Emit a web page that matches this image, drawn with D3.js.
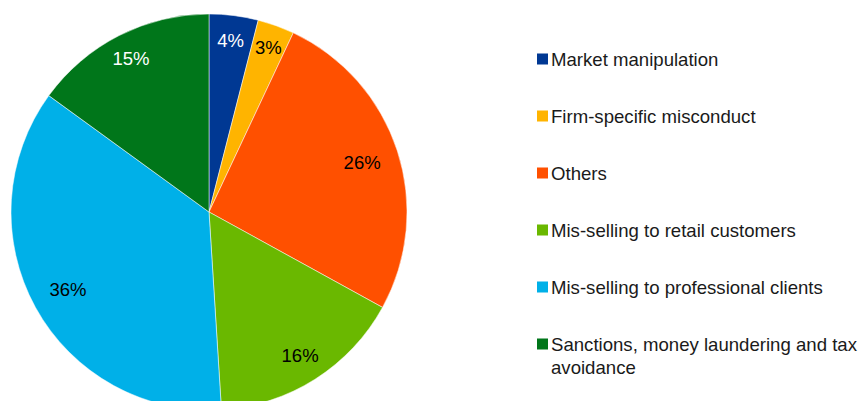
<!DOCTYPE html>
<html>
<head>
<meta charset="utf-8">
<script src="https://cdn.jsdelivr.net/npm/d3@7"></script>
<style>
  body { margin: 0; background: #fff; }
  text { font-family: "Liberation Sans", Arial, sans-serif; }
</style>
</head>
<body>
<div id="container"></div>
<script>
const WIDTH = 860, HEIGHT = 401;

const categories = [
    "Market manipulation",
    "Firm-specific misconduct",
    "Others",
    "Mis-selling to retail customers",
    "Mis-selling to professional clients",
    "Sanctions, money laundering and tax avoidance"
];
const values = [4, 3, 26, 16, 36, 15];
const colors = ["#003893", "#FFB400", "#FF5000", "#6AB800", "#00B0E8", "#00761A"];
const labelColors = ["#fff", "#000", "#000", "#000", "#000", "#fff"];

const cx = 209, cy = 212, radius = 198;
// label distance from centre for each slice (best-fit placement)
const labelRadii = [173, 175, 161, 170, 161, 172];

const svg = d3.select("#container").append("svg")
    .attr("width", WIDTH).attr("height", HEIGHT);

const data = categories.map((c, i) => ({ name: c, value: values[i], i: i }));

const pie = d3.pie().value(d => d.value).sort(null);
const arc = d3.arc().innerRadius(0).outerRadius(radius);

const g = svg.append("g").attr("transform", `translate(${cx}, ${cy})`);

const arcs = pie(data);

g.selectAll("path")
    .data(arcs)
    .join("path")
    .attr("d", arc)
    .attr("fill", d => colors[d.data.i])
    .attr("stroke", "#fff")
    .attr("stroke-width", 0.5);

g.selectAll("text")
    .data(arcs)
    .join("text")
    .attr("transform", d => {
        const r = labelRadii[d.data.i];
        return `translate(${d3.arc().innerRadius(r).outerRadius(r).centroid(d)})`;
    })
    .attr("text-anchor", "middle")
    .attr("dy", "0.35em")
    .attr("font-size", 18.5)
    .attr("fill", d => labelColors[d.data.i])
    .text(d => d.data.value + "%");

// legend
const legendY = d3.scalePoint().domain(categories).range([59, 344]);

const legend = svg.append("g");
const items = legend.selectAll("g")
    .data(categories)
    .join("g")
    .attr("transform", d => `translate(537, ${legendY(d)})`);

items.append("rect")
    .attr("x", 0).attr("y", -5.5)
    .attr("width", 11).attr("height", 11)
    .attr("fill", (d, i) => colors[i]);

items.append("text")
    .attr("x", 14)
    .attr("dy", "0.35em")
    .attr("font-size", 18.6)
    .attr("fill", "#1a1a1a")
    .each(function (d) {
        const t = d3.select(this);
        if (d.startsWith("Sanctions")) {
            t.append("tspan").attr("x", 14).text("Sanctions, money laundering and tax");
            t.append("tspan").attr("x", 14).attr("dy", "1.24em").text("avoidance");
        } else {
            t.text(d);
        }
    });
</script>
</body>
</html>
